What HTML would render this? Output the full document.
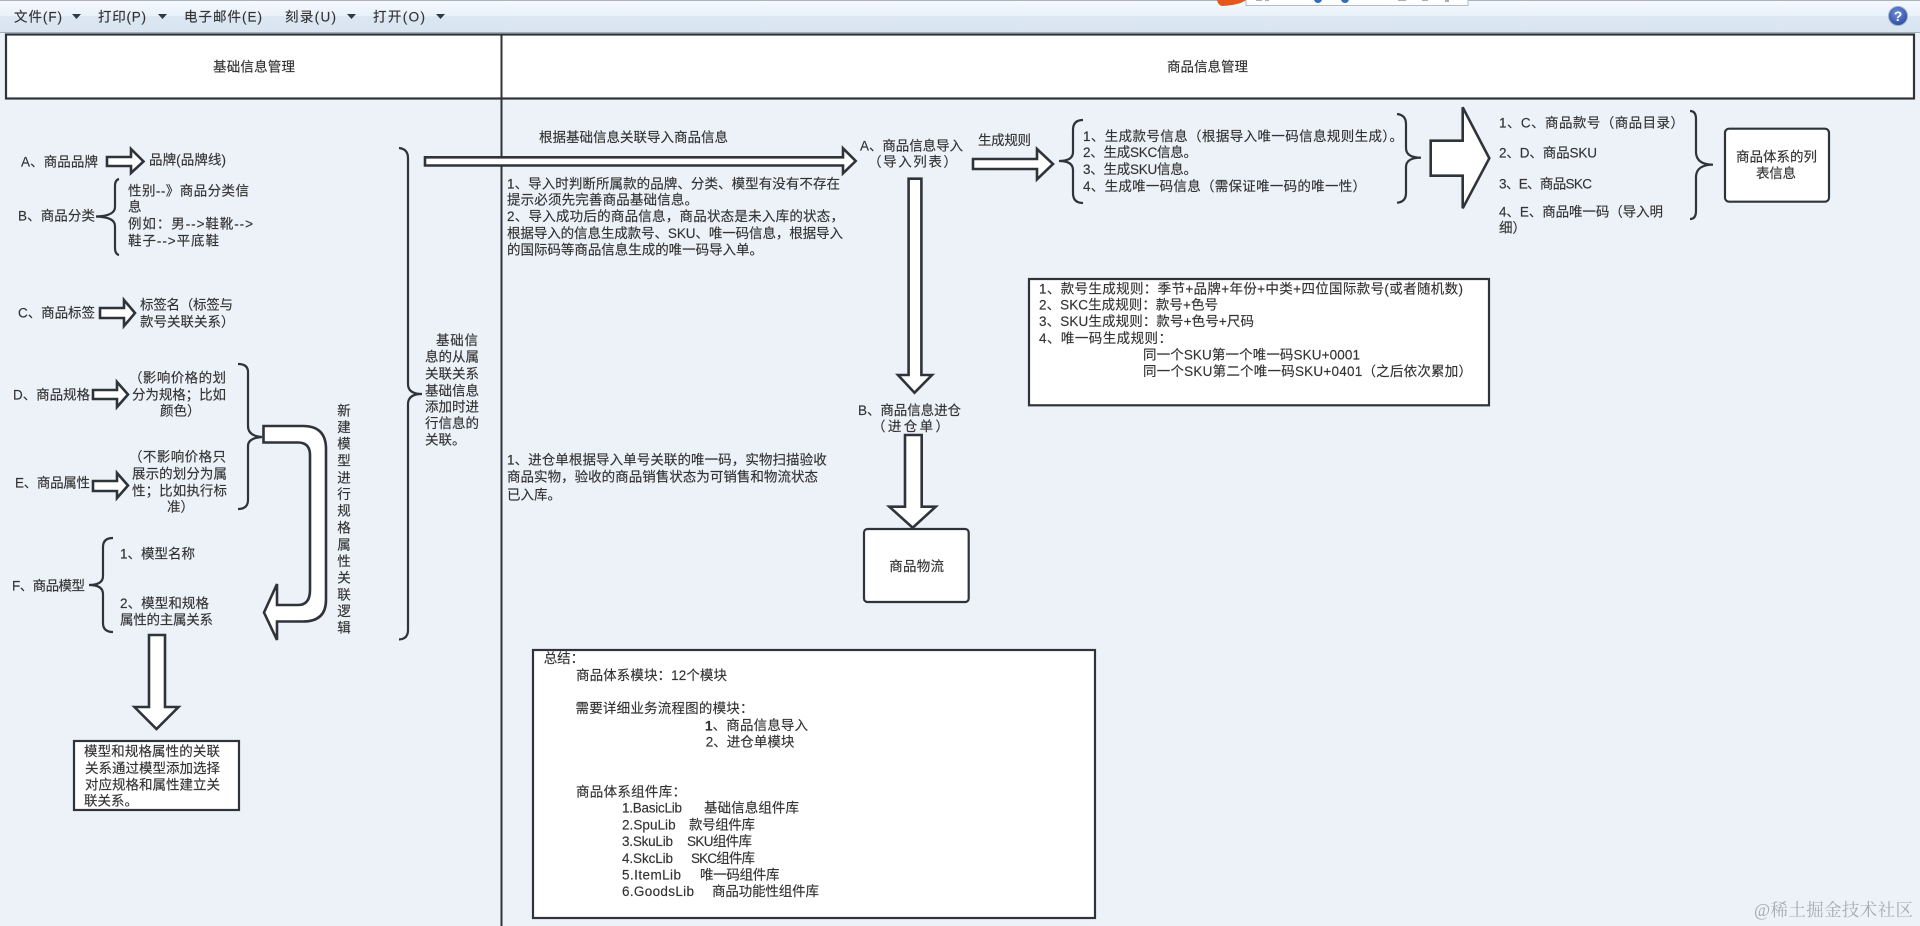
<!DOCTYPE html>
<html lang="zh-CN">
<head>
<meta charset="utf-8">
<title>商品体系</title>
<style>
html,body{margin:0;padding:0;width:1920px;height:926px;overflow:hidden;background:#edf2f9}
svg{display:block}
text{font-family:"Liberation Sans","Noto Sans CJK SC",sans-serif;font-size:13.5px;fill:#333;stroke:#333;stroke-width:.15;dominant-baseline:central}
.s{fill:#fff;stroke:#2f333a;stroke-width:2.2;stroke-linejoin:miter}
.a{fill:#fff;stroke:#2f333a;stroke-width:2.6;stroke-linejoin:miter}
.b{fill:none;stroke:#2f333a;stroke-width:2.2}
.w{font-family:"Liberation Serif","Noto Serif CJK SC",serif;font-size:17.5px;fill:#a8acb2;stroke:none}
</style>
</head>
<body>
<svg width="1920" height="926" viewBox="0 0 1920 926" xmlns="http://www.w3.org/2000/svg">
<defs>
<linearGradient id="tb" x1="0" y1="0" x2="0" y2="1">
<stop offset="0" stop-color="#f6f9fd"/><stop offset=".48" stop-color="#e9f1fa"/><stop offset=".5" stop-color="#dbe6f2"/><stop offset="1" stop-color="#d9e5f1"/>
</linearGradient>
<radialGradient id="hp" cx=".45" cy=".35" r=".7"><stop offset="0" stop-color="#6d8fd8"/><stop offset="1" stop-color="#2c47a0"/></radialGradient>
</defs>
<rect width="1920" height="926" fill="#edf2f9"/>
<!-- toolbar -->
<rect x="0" y="0" width="1920" height="33" fill="url(#tb)"/>
<rect x="0" y="0" width="1920" height="1" fill="#a8b4c0"/>
<rect x="0" y="32" width="1920" height="1" fill="#a0aebd"/>
<path d="M1217 0 H1246 Q1240 5 1222 6 Q1218 5 1217 0Z" fill="#e8571a"/>
<rect x="1246" y="-1" width="222" height="6.500" fill="#fff" stroke="#b4bcc6"/>
<circle cx="1318" cy="-1" r="4" fill="#2d6fb8"/><circle cx="1345" cy="-1" r="4" fill="#2d6fb8"/>
<path d="M1256 0 h6 v1 h-6Z M1265 0 h4 v1 h-4Z M1398 0 h8 v1 h-8Z M1422 0 h6 v1 h-6Z M1445 0 h4 v2 h-4Z" fill="#a8aeb6"/>
<text x="14" y="17" textLength="48">文件(F)</text><path d="M72 14 H81 L76.500 19Z" fill="#2f3a48"/>
<text x="98" y="17" textLength="48">打印(P)</text><path d="M158 14 H167 L162.500 19Z" fill="#2f3a48"/>
<text x="184" y="17" textLength="78">电子邮件(E)</text>
<text x="285" y="17" textLength="51">刻录(U)</text><path d="M347 14 H356 L351.500 19Z" fill="#2f3a48"/>
<text x="373" y="17" textLength="52">打开(O)</text><path d="M436 14 H445 L440.500 19Z" fill="#2f3a48"/>
<circle cx="1898" cy="16" r="9.500" fill="url(#hp)" stroke="#9fb0d0" stroke-width="1"/>
<text x="1898" y="16" text-anchor="middle" style="fill:#fff;stroke:none;font-weight:bold;font-size:14px">?</text>

<!-- lane headers -->
<rect x="6" y="34.500" width="1908" height="64" class="s"/>
<rect x="500.500" y="34" width="2" height="892" fill="#2f333a"/>
<text x="213" y="67" textLength="82">基础信息管理</text>
<text x="1167" y="67" textLength="81">商品信息管理</text>

<!-- left column -->
<text x="21" y="162" textLength="77">A、商品品牌</text>
<path class="a" d="M107 157 H131 V149 L143.500 161.500 L131 173 V166 H107Z"/>
<text x="149" y="160" textLength="77">品牌(品牌线)</text>

<text x="18" y="216" textLength="77">B、商品分类</text>
<path class="b" d="M119 179 Q115 180 115 186 V207 Q115 216 96 216.500 Q115 217 115 226 V248 Q115 254 119 255"/>
<text x="128" y="191" textLength="121">性别--》商品分类信</text>
<text x="128" y="207">息</text>
<text x="128" y="224" textLength="125">例如：男--&gt;鞋靴--&gt;</text>
<text x="128" y="241" textLength="91">鞋子--&gt;平底鞋</text>

<text x="18" y="313" textLength="77">C、商品标签</text>
<path class="a" d="M100 308 H124 V300 L135 313 L124 326 V318 H100Z"/>
<text x="140" y="305" textLength="93">标签名（标签与</text>
<text x="140" y="322">款号关联关系）</text>

<text x="13" y="395" textLength="77">D、商品规格</text>
<path class="a" d="M93 390 H117 V382 L128 394.500 L117 407 V399 H93Z"/>
<text x="129" y="378" textLength="97">（影响价格的划</text>
<text x="132" y="395" textLength="94">分为规格；比如</text>
<text x="160" y="411">颜色）</text>

<text x="15" y="483" textLength="75">E、商品属性</text>
<path class="a" d="M93 481 H117 V473 L128 485.500 L117 498 V491 H93Z"/>
<text x="129" y="457" textLength="97">（不影响价格只</text>
<text x="132" y="474" textLength="95">展示的划分为属</text>
<text x="132" y="491" textLength="95">性；比如执行标</text>
<text x="167" y="507">准）</text>

<path class="b" d="M238 364 Q248 364 248 372 V426 Q248 436 262 437 Q248 438 248 446 V500 Q248 509 238 509"/>
<path class="a" d="M263.500 426 H303 Q326 426 326 449 V600 Q326 621.500 303 621.500 H277 V640 L264 612.500 L277 584 V605 H298 Q310 605 310 590 V455 Q310 442.500 298 442.500 H263.500Z"/>

<g text-anchor="middle">
<text x="344" y="411">新</text><text x="344" y="427.500">建</text><text x="344" y="444">模</text><text x="344" y="461">型</text><text x="344" y="478">进</text><text x="344" y="494.500">行</text><text x="344" y="511">规</text><text x="344" y="528">格</text><text x="344" y="545">属</text><text x="344" y="561.500">性</text><text x="344" y="578">关</text><text x="344" y="595">联</text><text x="344" y="611.500">逻</text><text x="344" y="628">辑</text>
</g>

<text x="12" y="586" textLength="73">F、商品模型</text>
<path class="b" d="M113 538 Q103 538 103 547 V576 Q103 585 89 585 Q103 585 103 594 V623 Q103 632 113 632"/>
<text x="120" y="554" textLength="75">1、模型名称</text>
<text x="120" y="603.700" textLength="89">2、模型和规格</text>
<text x="120" y="620" textLength="93">属性的主属关系</text>

<path class="a" d="M149 635 H165 V707 H178.500 L156.500 729 L134.500 707 H149Z"/>
<rect x="74" y="741" width="165" height="69" class="s"/>
<text x="84" y="751.700" textLength="136">模型和规格属性的关联</text>
<text x="85" y="768.500" textLength="135">关系通过模型添加选择</text>
<text x="85" y="785" textLength="135">对应规格和属性建立关</text>
<text x="84" y="801">联关系。</text>

<path class="b" d="M399 148 Q408 149 408 158 V384 Q408 394 422 394 Q408 394 408 404 V630 Q408 639 399 639.500"/>
<text x="436" y="340.700" textLength="42">基础信</text>
<text x="425" y="357" textLength="54">息的从属</text>
<text x="425" y="374" textLength="54">关联关系</text>
<text x="425" y="391" textLength="54">基础信息</text>
<text x="425" y="407" textLength="54">添加时进</text>
<text x="425" y="423.700" textLength="54">行信息的</text>
<text x="425" y="440">关联。</text>

<!-- right lane -->
<path class="a" d="M425 157.300 H843 V148.300 L855.700 161 L843 173.300 V165.500 H425Z"/>
<text x="539" y="137.700" textLength="189">根据基础信息关联导入商品信息</text>
<text x="860" y="146" textLength="103">A、商品信息导入</text>
<text x="868" y="162" textLength="89">（导入列表）</text>
<text x="978" y="140.700" textLength="53">生成规则</text>
<path class="a" d="M973 159 H1037 V149 L1053 164 L1037 179.300 V169 H973Z"/>

<text x="507" y="184" textLength="333">1、导入时判断所属款的品牌、分类、模型有没有不存在</text>
<text x="507" y="200" textLength="191">提示必须先完善商品基础信息。</text>
<text x="507" y="216.700" textLength="337">2、导入成功后的商品信息，商品状态是未入库的状态，</text>
<text x="507" y="233.700" textLength="336">根据导入的信息生成款号、SKU、唯一码信息，根据导入</text>
<text x="507" y="250" textLength="256">的国际码等商品信息生成的唯一码导入单。</text>

<path class="a" d="M908.600 178.700 H921.400 V375 H932 L914.500 392.700 L898 375 H908.600Z"/>
<text x="858" y="410.700" textLength="103">B、商品信息进仓</text>
<text x="872" y="426.700" textLength="77">（进仓单）</text>
<path class="a" d="M905 435 H921.700 V506.700 H935.700 L912.700 527.700 L889.300 506.700 H905Z"/>
<rect x="864" y="529" width="104.700" height="73" rx="3.500" class="s"/>
<text x="889.300" y="566.700" textLength="54.700">商品物流</text>

<text x="507" y="460" textLength="319.700">1、进仓单根据导入单号关联的唯一码，实物扫描验收</text>
<text x="507" y="477" textLength="311">商品实物，验收的商品销售状态为可销售和物流状态</text>
<text x="507" y="495">已入库。</text>

<path class="b" d="M1083 120 Q1073 120 1073 130 V152 Q1073 161 1059 161 Q1073 161 1073 170 V193 Q1073 203 1083 203"/>
<text x="1083" y="136.700" textLength="320">1、生成款号信息（根据导入唯一码信息规则生成）。</text>
<text x="1083" y="152.700" textLength="114">2、生成SKC信息。</text>
<text x="1083" y="169.300" textLength="114">3、生成SKU信息。</text>
<text x="1083" y="186.700" textLength="283">4、生成唯一码信息（需保证唯一码的唯一性）</text>
<path class="b" d="M1397 114 Q1406 115 1406 124 V148 Q1406 157.700 1421 157.700 Q1406 157.700 1406 167 V193 Q1406 202 1397 202.700"/>
<path class="a" d="M1430.700 140.700 H1462.700 V107.300 L1489.300 158.300 L1462.700 208.300 V175.700 H1430.700Z"/>

<rect x="1029" y="279" width="460" height="126.300" class="s"/>
<text x="1039" y="289" textLength="424">1、款号生成规则：季节+品牌+年份+中类+四位国际款号(或者随机数)</text>
<text x="1039" y="305" textLength="179">2、SKC生成规则：款号+色号</text>
<text x="1039" y="321.700" textLength="215">3、SKU生成规则：款号+色号+尺码</text>
<text x="1039" y="338.300" textLength="133">4、唯一码生成规则：</text>
<text x="1143" y="355" textLength="217">同一个SKU第一个唯一码SKU+0001</text>
<text x="1143" y="371.700" textLength="329">同一个SKU第二个唯一码SKU+0401（之后依次累加）</text>

<text x="1499" y="123" textLength="185">1、C、商品款号（商品目录）</text>
<text x="1499" y="153" textLength="98">2、D、商品SKU</text>
<text x="1499" y="184" textLength="93">3、E、商品SKC</text>
<text x="1499" y="212" textLength="164">4、E、商品唯一码（导入明</text>
<text x="1499" y="228">细）</text>
<path class="b" d="M1690 111 Q1696 111 1696 119 V153 Q1697 164.700 1713 164.700 Q1697 164.700 1696 176 V211 Q1696 219 1690 219"/>
<rect x="1725" y="128.700" width="104" height="73" rx="4" class="s"/>
<text x="1736" y="157" textLength="81">商品体系的列</text>
<text x="1756" y="173.500" textLength="40">表信息</text>

<!-- summary -->
<rect x="533" y="650" width="562" height="268" class="s"/>
<text x="543.700" y="658.300">总结：</text>
<text x="576" y="675.700" textLength="151">商品体系模块：12个模块</text>
<text x="575.500" y="708.700" textLength="178">需要详细业务流程图的模块：</text>
<text x="705" y="725.700" textLength="103"><tspan font-weight="bold">1</tspan>、商品信息导入</text>
<text x="705.700" y="742" textLength="88.700">2、进仓单模块</text>
<text x="576" y="792" textLength="110">商品体系组件库：</text>
<text x="622" y="808" textLength="60">1.BasicLib</text><text x="704" y="808" textLength="95">基础信息组件库</text>
<text x="622" y="825" textLength="53.600">2.SpuLib</text><text x="689" y="825" textLength="66">款号组件库</text>
<text x="622" y="841.700" textLength="51">3.SkuLib</text><text x="687" y="841.700" textLength="65">SKU组件库</text>
<text x="622" y="858.300" textLength="51">4.SkcLib</text><text x="691" y="858.300" textLength="64">SKC组件库</text>
<text x="622" y="875" textLength="59">5.ItemLib</text><text x="700" y="875" textLength="79.500">唯一码组件库</text>
<text x="622" y="891.700" textLength="72">6.GoodsLib</text><text x="712" y="891.700" textLength="107">商品功能性组件库</text>

<text class="w" x="1754" y="910" textLength="159">@稀土掘金技术社区</text>
</svg>
</body>
</html>
